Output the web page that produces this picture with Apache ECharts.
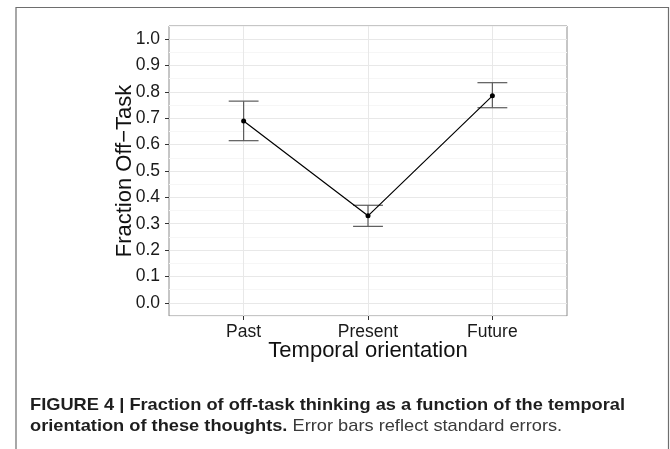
<!DOCTYPE html>
<html>
<head>
<meta charset="utf-8">
<script src="https://cdn.jsdelivr.net/npm/echarts@6/dist/echarts.min.js"></script>
<style>
  html, body { margin: 0; padding: 0; background: #fff; }
  #chart { width: 670px; height: 449px; }
</style>
</head>
<body>
<div id="chart"></div>
<script>
// data
const categories = ['Past', 'Present', 'Future'];
const fractionOffTask = [0.69, 0.33, 0.785];
const errLow = [0.615, 0.29, 0.74];
const errHigh = [0.765, 0.37, 0.835];
const yTicks = [0, 0.1, 0.2, 0.3, 0.4, 0.5, 0.6, 0.7, 0.8, 0.9, 1.0];

const yTitle = 'Fraction Off\u2212Task';
const xTitle = 'Temporal orientation';
const captionLine1 = 'FIGURE 4 | Fraction of off-task thinking as a function of the temporal';
const captionBold2 = 'orientation of these thoughts.';
const captionRest2 = ' Error bars reflect standard errors.';

const xPos = categories.map((_, i) => i + 1);
const pointData = xPos.map((x, i) => [x, fractionOffTask[i]]);
const errData = xPos.map((x, i) => [x, errLow[i], errHigh[i]]);

const chart = echarts.init(document.getElementById('chart'));

// 误差线
const renderErrorBar = (params, api) => {
  const x = api.value(0);
  const lo = api.coord([x, api.value(1)]);
  const hi = api.coord([x, api.value(2)]);
  const half = api.size([0.24, 0])[0] / 2;
  const style = { stroke: '#5a5a5a', lineWidth: 1.2 };
  return {
    type: 'group',
    children: [
      { type: 'line', shape: { x1: lo[0], y1: lo[1], x2: hi[0], y2: hi[1] }, style },
      { type: 'line', shape: { x1: lo[0] - half, y1: lo[1], x2: lo[0] + half, y2: lo[1] }, style },
      { type: 'line', shape: { x1: hi[0] - half, y1: hi[1], x2: hi[0] + half, y2: hi[1] }, style },
    ],
  };
};

const sansFamily = '"Liberation Sans", Arial, sans-serif';
const tickFont = { fontFamily: sansFamily, fontSize: 17.5, color: '#1a1a1a' };
const titleFont = { fontFamily: sansFamily, fontSize: 22, color: '#111' };

// 标题文字宽度缩放到参考图的宽度
const captionFontBold = 'bold 17px ' + sansFamily;
const captionFontReg = '17px ' + sansFamily;
const measureCtx = document.createElement('canvas').getContext('2d');
measureCtx.font = captionFontBold;
const captionScale = 595 / measureCtx.measureText(captionLine1).width;

const option = {
  animation: false,
  backgroundColor: '#fff',
  grid: {
    left: 169,
    right: 103,
    top: 26,
    bottom: 133,
    show: true,
    borderColor: '#8c8c8c',
    borderWidth: 1,
    backgroundColor: '#fff',
  },
  xAxis: {
    type: 'value',
    min: 0.4,
    max: 3.6,
    axisLine: { show: false, onZero: false },
    axisTick: { show: true, customValues: xPos, length: 4, lineStyle: { color: '#333' } },
    axisLabel: {
      customValues: xPos,
      margin: 7,
      formatter: (v) => categories[Math.round(v) - 1],
      ...tickFont,
    },
    splitLine: { show: true, lineStyle: { color: '#e8e8e8', width: 1 } },
    name: xTitle,
    nameLocation: 'middle',
    nameGap: 24,
    nameMoveOverlap: false,
    nameTextStyle: titleFont,
  },
  yAxis: [
    {
      type: 'value',
      min: -0.05,
      max: 1.05,
      interval: 0.05,
      axisLine: { show: false, onZero: false },
      axisTick: { show: false },
      axisLabel: { show: false },
      splitLine: { show: true, lineStyle: { color: ['#f6f6f6', '#e8e8e8'], width: 1 } },
    },
    {
      type: 'value',
      position: 'left',
      min: -0.05,
      max: 1.05,
      axisLine: { show: false, onZero: false },
      axisTick: { show: true, customValues: yTicks, length: 4, lineStyle: { color: '#333' } },
      axisLabel: {
        customValues: yTicks,
        margin: 9,
        formatter: (v) => v.toFixed(1),
        ...tickFont,
      },
      splitLine: { show: false },
      name: yTitle,
      nameLocation: 'middle',
      nameGap: 33,
      nameMoveOverlap: false,
      nameTextStyle: titleFont,
    },
  ],
  series: [
    {
      type: 'custom',
      yAxisIndex: 0,
      renderItem: renderErrorBar,
      data: errData,
      z: 3,
    },
    {
      type: 'line',
      yAxisIndex: 0,
      data: pointData,
      symbol: 'circle',
      symbolSize: 5,
      itemStyle: { color: '#000' },
      lineStyle: { color: '#000', width: 1.2 },
      z: 4,
    },
  ],
  graphic: [
    {
      type: 'rect',
      shape: { x: 16, y: 7.5, width: 652.5, height: 460 },
      style: { fill: 'none', stroke: '#6e6e6e', lineWidth: 1.2 },
      silent: true,
      z: -1,
    },
    {
      type: 'text',
      x: 30,
      y: 397,
      scaleX: captionScale,
      style: {
        text: captionLine1,
        font: captionFontBold,
        fill: '#1e1e1e',
        verticalAlign: 'top',
      },
    },
    {
      type: 'text',
      x: 30,
      y: 418,
      scaleX: captionScale,
      style: {
        text: '{b|' + captionBold2 + '}{r|' + captionRest2 + '}',
        verticalAlign: 'top',
        rich: {
          b: { font: captionFontBold, fill: '#1e1e1e' },
          r: { font: captionFontReg, fill: '#3a3a3a' },
        },
      },
    },
  ],
};

chart.setOption(option);
</script>
</body>
</html>
